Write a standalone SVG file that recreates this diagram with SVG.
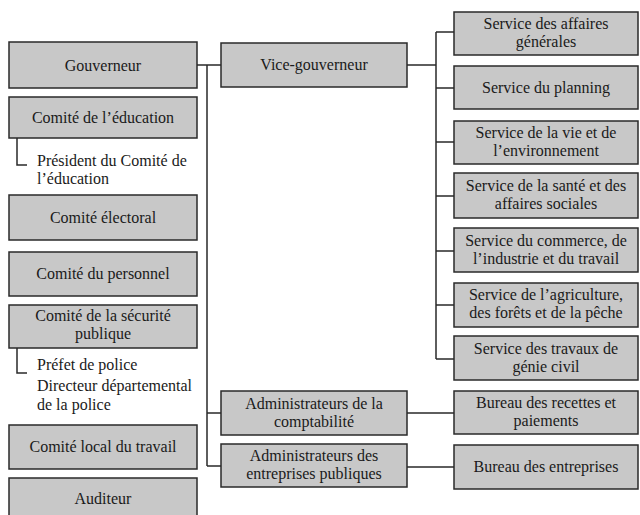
<svg xmlns="http://www.w3.org/2000/svg" width="640" height="515" viewBox="0 0 640 515">
<style>
.box{fill:#c8c8c8;stroke:#2a2a2a;stroke-width:1.5}
.t{font-family:"Liberation Serif","Times New Roman",serif;font-size:16px;fill:#1a1a1a;text-anchor:middle}
.l{font-family:"Liberation Serif","Times New Roman",serif;font-size:16px;fill:#1a1a1a}
.c{fill:none;stroke:#2a2a2a;stroke-width:1.5}
</style>
<rect width="640" height="515" fill="#ffffff"/>
<g id="connectors">
<path class="c" d="M197 65H221M207 65V466M207 413H221M207 466H221"/>
<path class="c" d="M407 65H436M436 32V359M436 32H454M436 88H454M436 142H454M436 196H454M436 251H454M436 305H454M436 359H454"/>
<path class="c" d="M407 413H454M407 467H454"/>
<path class="c" d="M17 138V165H27M17 348V373H27"/>
</g>
<g id="gouverneur"><rect class="box" x="9" y="42" width="188" height="46"/><text class="t" x="103" y="71">Gouverneur</text></g>
<g id="comite-education"><rect class="box" x="9" y="97" width="188" height="41"/><text class="t" x="103" y="123">Comité de l’éducation</text></g>
<g id="president-education"><text class="l" x="37" y="166">Président du Comité de</text><text class="l" x="37" y="184">l’éducation</text></g>
<g id="comite-electoral"><rect class="box" x="9" y="195" width="188" height="45"/><text class="t" x="103" y="223">Comité électoral</text></g>
<g id="comite-personnel"><rect class="box" x="9" y="252" width="188" height="44"/><text class="t" x="103" y="279">Comité du personnel</text></g>
<g id="comite-securite"><rect class="box" x="9" y="305" width="188" height="43"/><text class="t" x="103" y="321">Comité de la sécurité</text><text class="t" x="103" y="339">publique</text></g>
<g id="police"><text class="l" x="37" y="370">Préfet de police</text><text class="l" x="37" y="391">Directeur départemental</text><text class="l" x="37" y="410">de la police</text></g>
<g id="comite-travail"><rect class="box" x="9" y="425" width="188" height="44"/><text class="t" x="103" y="452">Comité local du travail</text></g>
<g id="auditeur"><rect class="box" x="9" y="478" width="188" height="45"/><text class="t" x="103" y="504">Auditeur</text></g>
<g id="vice-gouverneur"><rect class="box" x="221" y="43" width="186" height="44"/><text class="t" x="314" y="70">Vice-gouverneur</text></g>
<g id="admin-comptabilite"><rect class="box" x="221" y="391" width="186" height="44"/><text class="t" x="314" y="409">Administrateurs de la</text><text class="t" x="314" y="427">comptabilité</text></g>
<g id="admin-entreprises"><rect class="box" x="221" y="444" width="186" height="43"/><text class="t" x="314" y="461">Administrateurs des</text><text class="t" x="314" y="479">entreprises publiques</text></g>
<g id="service-affaires"><rect class="box" x="454" y="12" width="184" height="43"/><text class="t" x="546" y="29">Service des affaires</text><text class="t" x="546" y="47">générales</text></g>
<g id="service-planning"><rect class="box" x="454" y="66" width="184" height="43"/><text class="t" x="546" y="93">Service du planning</text></g>
<g id="service-vie"><rect class="box" x="454" y="121" width="184" height="43"/><text class="t" x="546" y="138">Service de la vie et de</text><text class="t" x="546" y="156">l’environnement</text></g>
<g id="service-sante"><rect class="box" x="454" y="173" width="184" height="45"/><text class="t" x="546" y="191">Service de la santé et des</text><text class="t" x="546" y="209">affaires sociales</text></g>
<g id="service-commerce"><rect class="box" x="454" y="228" width="184" height="44"/><text class="t" x="546" y="246">Service du commerce, de</text><text class="t" x="546" y="264">l’industrie et du travail</text></g>
<g id="service-agriculture"><rect class="box" x="454" y="283" width="184" height="44"/><text class="t" x="546" y="300">Service de l’agriculture,</text><text class="t" x="546" y="318">des forêts et de la pêche</text></g>
<g id="service-travaux"><rect class="box" x="454" y="336" width="184" height="44"/><text class="t" x="546" y="354">Service des travaux de</text><text class="t" x="546" y="372">génie civil</text></g>
<g id="bureau-recettes"><rect class="box" x="454" y="391" width="184" height="43"/><text class="t" x="546" y="408">Bureau des recettes et</text><text class="t" x="546" y="426">paiements</text></g>
<g id="bureau-entreprises"><rect class="box" x="454" y="445" width="184" height="44"/><text class="t" x="546" y="472">Bureau des entreprises</text></g>
</svg>
